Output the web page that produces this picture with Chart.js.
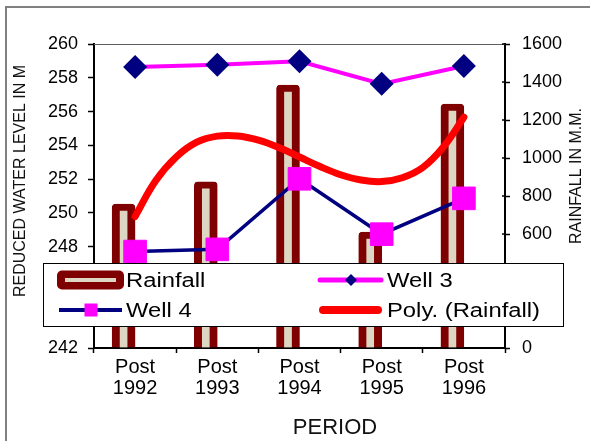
<!DOCTYPE html>
<html>
<head>
<meta charset="utf-8">
<script src="https://cdn.jsdelivr.net/npm/chart.js@4.4.1/dist/chart.umd.min.js"></script>
<style>
  html, body { margin: 0; padding: 0; background: #fff; }
  #wrap { width: 590px; height: 441px; position: relative; }
</style>
</head>
<body>
<div id="wrap"><canvas id="c" width="590" height="441"></canvas></div>
<script>
// Periods on the x axis (two-line labels)
const periods = [["Post", "1992"], ["Post", "1993"], ["Post", "1994"], ["Post", "1995"], ["Post", "1996"]];

// Rainfall (mm), right axis
const rainfall = [758, 874, 1384, 610, 1284];

// Reduced water level (m), left axis
const well3 = [258.64, 258.77, 258.98, 257.64, 258.70];
const well4 = [247.71, 247.84, 252.02, 248.74, 250.86];

// Polynomial trend of rainfall, sampled every quarter period
const trendPos = [0, 0.25, 0.5, 0.75, 1, 1.25, 1.5, 1.75, 2, 2.25, 2.5, 2.75, 3, 3.25, 3.5, 3.75, 4];
const trendVal = [692, 880, 1005, 1083, 1115, 1116, 1094, 1055, 1005, 955, 912, 884, 876, 896, 950, 1058, 1215];

// Axis tick values
const levelTicks = [242, 244, 246, 248, 250, 252, 254, 256, 258, 260];
const rainTicks = [0, 200, 400, 600, 800, 1000, 1200, 1400, 1600];

const FONT = "'Liberation Sans', Arial, sans-serif";
const DARK_RED = '#7f0000';
const BEIGE = '#dcd6c2';
const NAVY = '#000080';
const MAGENTA = '#ff00ff';

const decor = {
  id: 'decor',
  beforeDraw(chart) {
    const ctx = chart.ctx;
    ctx.save();
    ctx.fillStyle = '#fff';
    ctx.fillRect(0, 0, chart.width, chart.height);
    ctx.restore();
  },
  afterDraw(chart) {
    const ctx = chart.ctx;
    const a = chart.chartArea;
    ctx.save();

    // outer frame
    ctx.strokeStyle = '#808080';
    ctx.lineWidth = 2;
    ctx.strokeRect(6, 7, 600, 450);

    // plot area top edge
    ctx.strokeStyle = '#606060';
    ctx.lineWidth = 1;
    ctx.beginPath();
    ctx.moveTo(a.left, a.top + 0.5);
    ctx.lineTo(a.right, a.top + 0.5);
    ctx.stroke();

    // inner halves of the right-axis tick marks
    const y1 = chart.scales.y1;
    ctx.strokeStyle = '#000';
    ctx.lineWidth = 1.5;
    rainTicks.forEach(v => {
      const py = y1.getPixelForValue(v);
      ctx.beginPath();
      ctx.moveTo(a.right - 3, py);
      ctx.lineTo(a.right, py);
      ctx.stroke();
    });

    // axis titles
    ctx.fillStyle = '#111';
    ctx.textAlign = 'center';
    ctx.textBaseline = 'middle';
    ctx.font = '16px ' + FONT;
    ctx.save();
    ctx.translate(21, 181);
    ctx.rotate(-Math.PI / 2);
    ctx.fillText('REDUCED WATER LEVEL IN M', 0, 0);
    ctx.restore();
    ctx.save();
    ctx.translate(577, 176);
    ctx.rotate(-Math.PI / 2);
    ctx.fillText('RAINFALL IN M.M.', 0, 0);
    ctx.restore();
    ctx.font = '22px ' + FONT;
    ctx.fillText('PERIOD', 335, 428);

    // legend box
    const lx = 43, ly = 263, lw = 520, lh = 63;
    ctx.fillStyle = '#fff';
    ctx.fillRect(lx, ly, lw, lh);
    ctx.strokeStyle = '#000';
    ctx.lineWidth = 1;
    ctx.strokeRect(lx + 0.5, ly + 0.5, lw, lh);

    const r1 = 280, r2 = 310;

    // Rainfall swatch
    ctx.fillStyle = DARK_RED;
    ctx.beginPath();
    ctx.roundRect(57, r1 - 9.5, 67, 19, 5);
    ctx.fill();
    ctx.fillStyle = BEIGE;
    ctx.fillRect(65, r1 - 2, 51, 4);

    // Well 4 swatch
    ctx.strokeStyle = NAVY;
    ctx.lineWidth = 4;
    ctx.beginPath();
    ctx.moveTo(59, r2);
    ctx.lineTo(122, r2);
    ctx.stroke();
    ctx.fillStyle = MAGENTA;
    ctx.fillRect(84.5, r2 - 6.5, 13, 13);

    // Well 3 swatch
    ctx.strokeStyle = MAGENTA;
    ctx.lineWidth = 5;
    ctx.lineCap = 'round';
    ctx.beginPath();
    ctx.moveTo(320, r1);
    ctx.lineTo(381, r1);
    ctx.stroke();
    ctx.fillStyle = NAVY;
    ctx.beginPath();
    ctx.moveTo(351, r1 - 6);
    ctx.lineTo(357, r1);
    ctx.lineTo(351, r1 + 6);
    ctx.lineTo(345, r1);
    ctx.closePath();
    ctx.fill();

    // Poly. (Rainfall) swatch
    ctx.strokeStyle = '#ff0000';
    ctx.lineWidth = 8;
    ctx.beginPath();
    ctx.moveTo(323, r2);
    ctx.lineTo(378, r2);
    ctx.stroke();

    // legend texts (slightly wide lettering)
    ctx.fillStyle = '#000';
    ctx.textAlign = 'left';
    ctx.textBaseline = 'middle';
    ctx.font = '20px ' + FONT;
    const wide = (t, x, y) => {
      ctx.save();
      ctx.translate(x, y);
      ctx.scale(1.19, 1);
      ctx.fillText(t, 0, 1);
      ctx.restore();
    };
    wide('Rainfall', 126, r1);
    wide('Well 4', 126, r2);
    wide('Well 3', 387, r1);
    wide('Poly. (Rainfall)', 387, r2);

    ctx.restore();
  }
};

new Chart(document.getElementById('c'), {
  data: {
    labels: periods,
    datasets: [
      {
        type: 'bar',
        label: 'Rainfall',
        data: rainfall,
        yAxisID: 'y1',
        xAxisID: 'x',
        backgroundColor: BEIGE,
        borderColor: DARK_RED,
        borderWidth: { left: 8, right: 8, top: 7, bottom: 0 },
        borderRadius: 4,
        borderSkipped: 'start',
        barThickness: 23,
        order: 4
      },
      {
        type: 'line',
        label: 'Poly. (Rainfall)',
        data: trendPos.map((p, i) => ({ x: p, y: trendVal[i] })),
        xAxisID: 'xt',
        yAxisID: 'y1',
        borderColor: '#ff0000',
        borderWidth: 7,
        borderCapStyle: 'round',
        pointRadius: 0,
        tension: 0.4,
        order: 3
      },
      {
        type: 'line',
        label: 'Well 4',
        data: well4,
        yAxisID: 'y',
        xAxisID: 'x',
        borderColor: NAVY,
        borderWidth: 3.5,
        pointStyle: 'rect',
        pointRadius: 16,
        pointBackgroundColor: MAGENTA,
        pointBorderColor: MAGENTA,
        pointBorderWidth: 1,
        tension: 0,
        order: 2
      },
      {
        type: 'line',
        label: 'Well 3',
        data: well3,
        yAxisID: 'y',
        xAxisID: 'x',
        borderColor: MAGENTA,
        borderWidth: 4,
        pointStyle: 'rectRot',
        pointRadius: 12,
        pointBackgroundColor: NAVY,
        pointBorderColor: NAVY,
        pointBorderWidth: 0,
        tension: 0,
        order: 1
      }
    ]
  },
  options: {
    responsive: false,
    devicePixelRatio: 1,
    animation: false,
    layout: { padding: { top: 44, left: 0, right: 0, bottom: 0 } },
    plugins: { legend: { display: false }, tooltip: { enabled: false } },
    scales: {
      x: {
        type: 'category',
        position: 'bottom',
        offset: true,
        grid: { display: true, drawOnChartArea: false, offset: true, tickLength: 5, color: '#000', tickWidth: 1.5 },
        border: { display: true, color: '#000', width: 2 },
        ticks: { color: '#000', font: { family: FONT, size: 20, lineHeight: 1.05 }, padding: 4, maxRotation: 0, autoSkip: false },
        afterFit: s => { s.height = 93; }
      },
      xt: {
        type: 'linear',
        display: false,
        min: -0.5,
        max: 4.5
      },
      y: {
        position: 'left',
        min: 242,
        max: 260,
        afterBuildTicks: s => { s.ticks = levelTicks.map(v => ({ value: v })); },
        grid: { display: true, drawOnChartArea: false, tickLength: 6, color: '#000', tickWidth: 1.5 },
        border: { display: true, color: '#000', width: 2 },
        ticks: { color: '#000', font: { family: FONT, size: 18 }, padding: 10, callback: v => String(v) },
        afterFit: s => { s.width = 94; }
      },
      y1: {
        position: 'right',
        min: 0,
        max: 1600,
        afterBuildTicks: s => { s.ticks = rainTicks.map(v => ({ value: v })); },
        grid: { display: true, drawOnChartArea: false, tickLength: 5, color: '#000', tickWidth: 1.5 },
        border: { display: true, color: '#000', width: 2 },
        ticks: { color: '#000', font: { family: FONT, size: 18 }, padding: 12, callback: v => String(v) },
        afterFit: s => { s.width = 85; }
      }
    }
  },
  plugins: [decor]
});
</script>
</body>
</html>
